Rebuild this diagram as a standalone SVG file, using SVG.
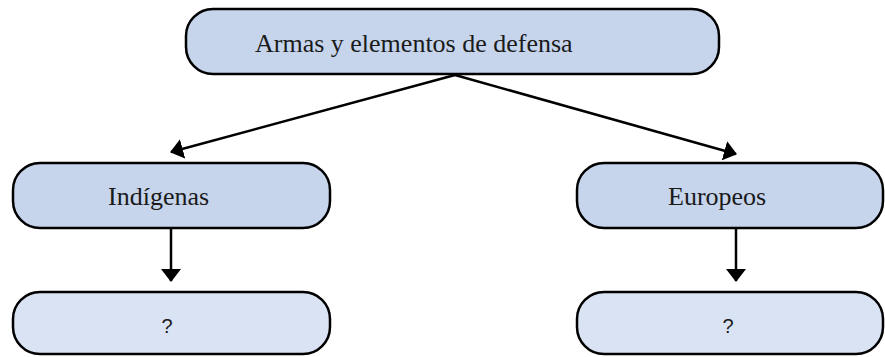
<svg xmlns="http://www.w3.org/2000/svg" width="885" height="357" viewBox="0 0 885 357">
<defs>
<marker id="ah" viewBox="0 0 13 20" refX="12" refY="10" markerWidth="13" markerHeight="20" markerUnits="userSpaceOnUse" orient="auto">
<path d="M0,0 L13,10 L0,20 z" fill="#000"/>
</marker>
</defs>
<style>
.box{stroke:#000;stroke-width:2.5}
.main{fill:#C6D5EC}
.sub{fill:#DAE3F3}
.lbl{font-family:"Liberation Serif",serif;font-size:26px;fill:#1a1a1a}
.q{font-family:"Liberation Sans",sans-serif;font-size:20px;fill:#1a1a1a}
.con{stroke:#000;stroke-width:2.5;fill:none}
</style>
<rect width="885" height="357" fill="#fff"/>
<g id="connectors">
<line class="con" x1="455" y1="75" x2="171" y2="152" marker-end="url(#ah)"/>
<line class="con" x1="455" y1="75" x2="736" y2="154" marker-end="url(#ah)"/>
<line class="con" x1="171" y1="228" x2="171" y2="281" marker-end="url(#ah)"/>
<line class="con" x1="736" y1="228" x2="736" y2="281" marker-end="url(#ah)"/>
</g>
<g id="node-armas">
<rect class="box main" x="186" y="9" width="533" height="65" rx="27"/>
<text class="lbl" x="255" y="52">Armas y elementos de defensa</text>
</g>
<g id="node-indigenas">
<rect class="box main" x="13" y="163" width="317" height="65" rx="27"/>
<text class="lbl" x="108" y="205">Indígenas</text>
</g>
<g id="node-europeos">
<rect class="box main" x="577" y="163" width="306" height="65" rx="27"/>
<text class="lbl" x="668" y="205">Europeos</text>
</g>
<g id="node-indigenas-q">
<rect class="box sub" x="13" y="292" width="317" height="62" rx="27"/>
<text class="q" x="167" y="333" text-anchor="middle">?</text>
</g>
<g id="node-europeos-q">
<rect class="box sub" x="577" y="292" width="306" height="62" rx="27"/>
<text class="q" x="728" y="333" text-anchor="middle">?</text>
</g>
</svg>
